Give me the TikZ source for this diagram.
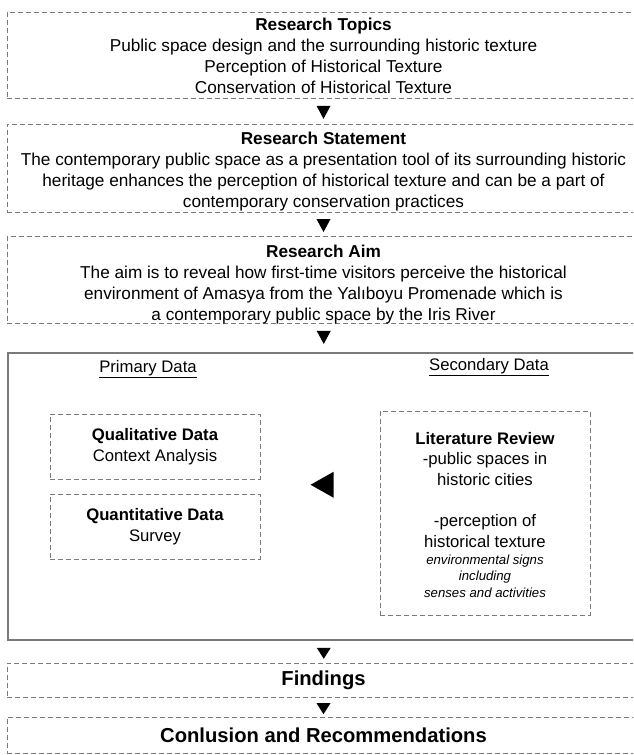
\documentclass[tikz,border=0pt]{standalone}
\usepackage{fontspec}
\setmainfont{Liberation Sans}
\usetikzlibrary{shapes.geometric,calc}
\definecolor{linegray}{HTML}{7A7A7A}
\tikzset{
  dbox/.style={draw=linegray, line width=1pt, dash pattern=on 5pt off 3pt, align=center, inner sep=0pt, text=black},
  sbox/.style={draw=linegray, line width=1.5pt, inner sep=0pt},
  body/.style={font=\fontsize{17.2}{21}\selectfont},
  inbody/.style={font=\fontsize{16.7}{20.5}\selectfont},
  downtri/.style={isosceles triangle, isosceles triangle stretches, shape border rotate=270, fill=black, draw=none, minimum width=14pt, minimum height=13pt, inner sep=0pt},
  lefttri/.style={isosceles triangle, isosceles triangle stretches, shape border rotate=180, fill=black, draw=none, minimum width=26pt, minimum height=23pt, inner sep=0pt},
  lbl/.style={align=center, inner sep=0pt}
}
\begin{document}
\begin{tikzpicture}[x=1pt,y=-1pt]
\clip (0,0) rectangle (633,755);
\fill[white] (0,0) rectangle (633,755);
% top boxes
\node[dbox, minimum width=633pt, minimum height=86pt] (b1) at (323.5,55) {};
\node[lbl, body] (t1) at (323.5,56) {\textbf{Research Topics}\\Public space design and the surrounding historic texture\\Perception of Historical Texture\\Conservation of Historical Texture};
\node[dbox, minimum width=633pt, minimum height=88pt] (b2) at (323.5,168) {};
\node[lbl, body] (t2) at (323.5,171.5) {\textbf{Research Statement}\\The contemporary public space as a presentation tool of its surrounding historic\\heritage enhances the perception of historical texture and can be a part of\\contemporary conservation practices};
\node[dbox, minimum width=633pt, minimum height=87pt] (b3) at (323.5,280) {};
\node[lbl, body] (t3) at (323.5,284.5) {\textbf{Research Aim}\\The aim is to reveal how first-time visitors perceive the historical\\environment of Amasya from the Yalıboyu Promenade which is\\a contemporary public space by the Iris River};
% big box
\node[sbox, minimum width=632pt, minimum height=287pt] (big) at (324,496.5) {};
\node[lbl, inbody] (prim) at (148,369) {\underline{Primary Data}};
\node[lbl, inbody] (sec) at (489,367) {\underline{Secondary Data}};
\node[dbox, inbody, minimum width=210pt, minimum height=65pt] (qual) at (155,446.5) {\textbf{Qualitative Data}\\Context Analysis};
\node[dbox, inbody, minimum width=210pt, minimum height=65pt] (quant) at (155,526.5) {\textbf{Quantitative Data}\\Survey};
\node[dbox, minimum width=210pt, minimum height=204pt] (lit) at (485,513) {};
\node[lbl, inbody] (littxt) at (485,459) {\textbf{Literature Review}\\-public spaces in\\historic cities};
\node[lbl, inbody] (perc) at (485,531) {-perception of\\historical texture};
\node[lbl, font=\fontsize{13.2}{16.5}\selectfont\itshape] (env) at (485,576) {environmental signs\\including\\senses and activities};
\node[lefttri] (larr) at ($(quant.east)!0.5!(lit.west)+(6,-35)$) {};
% bottom boxes
\node[dbox, minimum width=633pt, minimum height=34pt, font=\fontsize{20.2}{24}\selectfont\bfseries] (fin) at (323.5,680) {Findings};
\node[dbox, minimum width=633pt, minimum height=36pt, font=\fontsize{20.2}{24}\selectfont\bfseries] (con) at (323.5,735) {Conlusion and Recommendations};
% down arrows
\node[downtri] (a1) at ($(b1.south)!0.5!(b2.north)+(0,-1)$) {};
\node[downtri] (a2) at ($(b2.south)!0.5!(b3.north)+(0,-1)$) {};
\node[downtri] (a3) at ($(b3.south)!0.5!(big.north)+(0,-3)$) {};
\node[downtri, minimum height=11pt] (a4) at ($(big.south)!0.5!(fin.north)$) {};
\node[downtri, minimum height=11pt] (a5) at ($(fin.south)!0.5!(con.north)$) {};
\end{tikzpicture}
\end{document}
